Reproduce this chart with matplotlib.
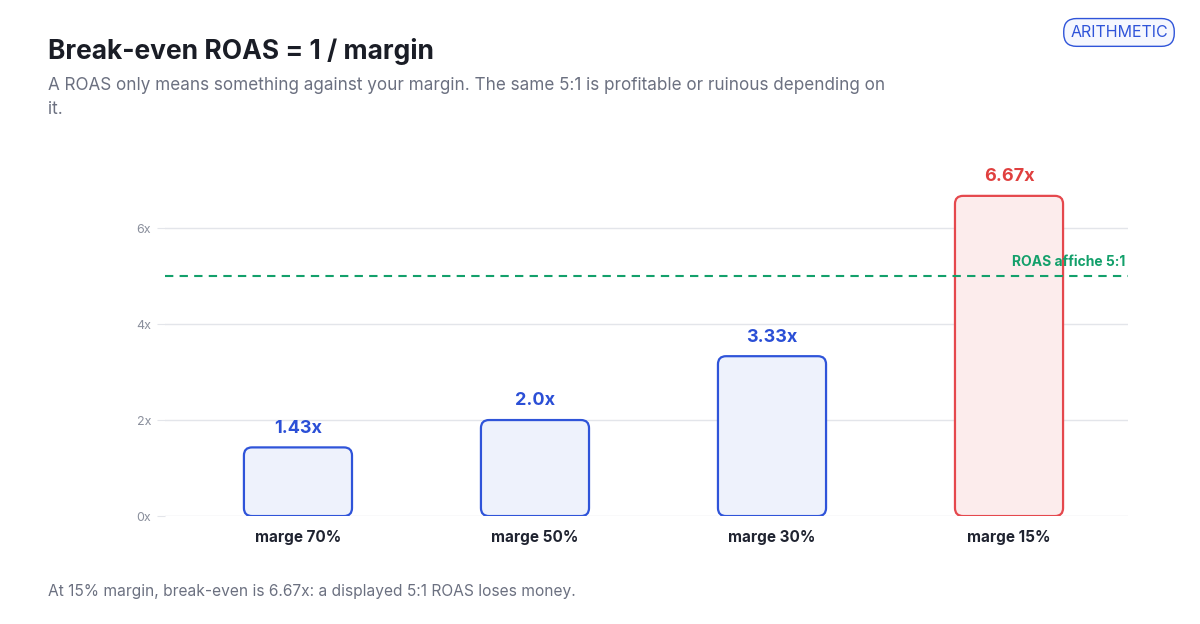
import matplotlib
matplotlib.use("Agg")
import matplotlib.pyplot as plt
from matplotlib.patches import FancyBboxPatch

categories = ["marge 70%", "marge 50%", "marge 30%", "marge 15%"]
values = [1.43, 2.0, 3.33, 6.67]
labels = ["1.43x", "2.0x", "3.33x", "6.67x"]
yticks = [0, 2, 4, 6]
displayed_roas = 5

plt.rcParams['font.family'] = ['Inter', 'DejaVu Sans']
fig = plt.figure(figsize=(12, 6.24), dpi=100)
ax = fig.add_axes([0.1375, 0.173, 0.8025, 0.5385])
ax.set_xlim(-0.561, 3.502)
ax.set_ylim(0, 7)
for s in ax.spines.values():
    s.set_visible(False)
ax.set_yticks(yticks)
ax.set_yticklabels([f"{t}x" for t in yticks], color="#8a8f9c", fontsize=9)
ax.tick_params(axis='y', length=6, color="#e3e5ea", pad=4)
ax.tick_params(axis='x', length=0, pad=10)
ax.set_xticks(range(len(categories)))
ax.set_xticklabels(categories, fontsize=11, fontweight='bold', color="#1f2330")
ax.grid(axis='y', color="#e3e5ea", linewidth=1)
ax.set_axisbelow(True)

w = 0.456
for i, v in enumerate(values):
    red = v > displayed_roas
    ec = "#e5484d" if red else "#2f54d9"
    fc = "#fcecec" if red else "#eef2fc"
    p = FancyBboxPatch((i - w/2, 0), w, v, boxstyle="round,pad=0,rounding_size=0.034",
                       mutation_aspect=4.94, fc=fc, ec=ec, lw=1.6, zorder=3)
    ax.add_patch(p)
    ax.text(i, v + 0.22, labels[i], ha='center', va='bottom', fontsize=13,
            fontweight='bold', color="#e0403f" if red else "#2b4fd6", zorder=4)

ax.axhline(displayed_roas, color="#13a06b", ls=(0, (4, 3)), lw=1.5, zorder=4)
ax.text(3.49, displayed_roas + 0.15, "ROAS affiche 5:1", ha='right', va='bottom',
        fontsize=10, fontweight='bold', color="#13a06b", zorder=5)

fig.text(0.04, 0.905, "Break-even ROAS = 1 / margin", fontsize=19, fontweight='bold', color="#1a1d26")
fig.text(0.04, 0.855, "A ROAS only means something against your margin. The same 5:1 is profitable or ruinous depending on",
         fontsize=12.3, color="#6b7080")
fig.text(0.04, 0.818, "it.", fontsize=12.3, color="#6b7080")
fig.text(0.04, 0.045, "At 15% margin, break-even is 6.67x: a displayed 5:1 ROAS loses money.",
         fontsize=11.2, color="#6b7080")
fig.text(0.9325, 0.948, "ARITHMETIC", fontsize=11.5, color="#2f54d9", ha='center', va='center',
         bbox=dict(boxstyle="round,pad=0.4,rounding_size=0.8", fc="#f5f7fe", ec="#2f54d9", lw=1))
fig.savefig("out.png", dpi=100, facecolor="white")
